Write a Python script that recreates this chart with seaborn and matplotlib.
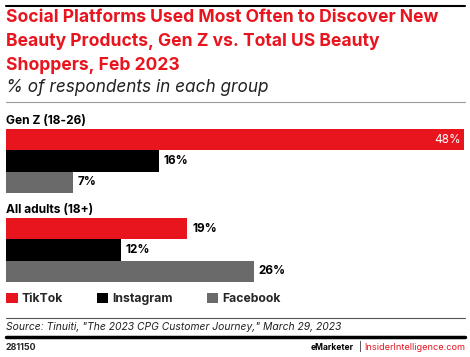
import pandas as pd
import matplotlib.pyplot as plt
import seaborn as sns
from matplotlib.lines import Line2D

# -- data
groups = ["Gen Z (18-26)", "All adults (18+)"]
platforms = ["TikTok", "Instagram", "Facebook"]
genz_vals = [48, 16, 7]
adult_vals = [19, 12, 26]

RED = "#E8141E"
GRAY = "#6A6A6A"
colors = [RED, "#000000", GRAY]

df = pd.DataFrame({
    "group": [groups[0]] * 3 + [groups[1]] * 3,
    "platform": platforms * 2,
    "value": genz_vals + adult_vals,
})

sns.set_theme(style="white")
plt.rcParams["font.family"] = ["Inter", "DejaVu Sans"]

fig = plt.figure(figsize=(4.7, 3.57), dpi=100)
W, H = 470, 357

def fx(px):
    return px / W

def fy(py):
    return 1 - py / H

# -- bars
ax = fig.add_axes([fx(6), fy(290), fx(458), 185 / H])
sns.barplot(data=df, y="group", x="value", hue="platform", orient="h",
            palette=colors, width=0.72, gap=0, saturation=1,
            ax=ax, edgecolor="none")
ax.set_xlim(0, 48)
ax.set_ylim(1.449, -0.629)
ax.set_xlabel("")
ax.set_ylabel("")
ax.set_xticks([])
ax.set_yticks([])
for s in ax.spines.values():
    s.set_visible(False)

for i, g in enumerate(groups):
    ax.text(0, i - 0.45, g, fontsize=8.6, fontweight="bold", va="center",
            ha="left", color="black")

for cont in ax.containers:
    for p in cont.patches:
        v = p.get_width()
        yc = p.get_y() + p.get_height() / 2
        if v > 40:
            ax.text(v - 0.3, yc, f"{v:.0f}%", color="white", fontsize=8.5,
                    va="center", ha="right")
        else:
            ax.text(v + 0.5, yc, f"{v:.0f}%", color="black", fontsize=8.5,
                    va="center", ha="left", fontweight="bold")

sns.move_legend(ax, "center left", bbox_to_anchor=(0, 0),
                ncol=3, frameon=False, title=None, fontsize=8.8,
                handlelength=0.95, handleheight=0.95, columnspacing=2.75,
                handletextpad=0.35, borderaxespad=0, borderpad=0)
leg = ax.get_legend()
leg.set_bbox_to_anchor((fx(6), fy(299)), transform=fig.transFigure)
for t in leg.get_texts():
    t.set_fontweight("bold")

# -- titles
fig.add_artist(Line2D([fx(6), fx(465)], [fy(6), fy(6)], color="black", lw=1.5))
fig.text(fx(6), fy(18), "Social Platforms Used Most Often to Discover New",
         color=RED, fontsize=12.6, fontweight="bold", va="center")
fig.text(fx(6), fy(41.5), "Beauty Products, Gen Z vs. Total US Beauty",
         color=RED, fontsize=12.6, fontweight="bold", va="center")
fig.text(fx(6), fy(65), "Shoppers, Feb 2023",
         color=RED, fontsize=12.6, fontweight="bold", va="center")
fig.text(fx(6), fy(88), "% of respondents in each group",
         color="#222222", fontsize=12.4, style="italic", va="center")
fig.add_artist(Line2D([fx(6), fx(465)], [fy(102), fy(102)], color="#9A9A9A", lw=0.8))

# -- footer
fig.add_artist(Line2D([fx(6), fx(465)], [fy(318), fy(318)], color="#555555", lw=0.8))
fig.text(fx(6), fy(327.5),
         "Source: Tinuiti, \"The 2023 CPG Customer Journey,\" March 29, 2023",
         fontsize=7.45, style="italic", va="center", color="#222222")
fig.add_artist(Line2D([fx(6), fx(465)], [fy(337), fy(337)], color="black", lw=2.5))
fig.text(fx(6), fy(347), "281150", fontsize=6.4, fontweight="bold", va="center")
fig.text(fx(465), fy(347), "InsiderIntelligence.com", fontsize=6.6,
         color=RED, ha="right", va="center")
fig.text(fx(360), fy(347), "|", fontsize=6.6, ha="center", va="center")
fig.text(fx(354), fy(347), "eMarketer", fontsize=6.1, fontweight="bold",
         color="black", ha="right", va="center")

fig.savefig("out.png", dpi=100)
